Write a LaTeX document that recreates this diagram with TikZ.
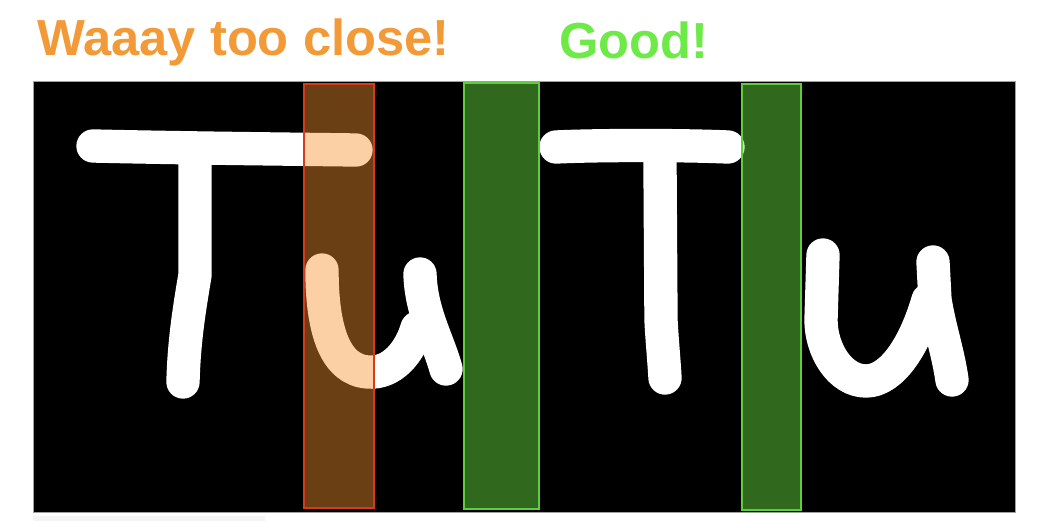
\documentclass[tikz,border=0pt]{standalone}
\usepackage{fontspec}
\setmainfont{Liberation Sans}

\tikzset{every picture/.style={line width=0.75pt}}
\tikzset{
  chalk/.style={draw=white, line width=25pt, line cap=round, line join=round},
  badband/.style={draw={rgb, 255:red, 216; green, 58; blue, 30 }, fill={rgb, 255:red, 249; green, 147; blue, 47 }, fill opacity=0.43, line width=0.9pt},
  goodband/.style={draw={rgb, 255:red, 96; green, 205; blue, 62 }, fill={rgb, 255:red, 108; green, 235; blue, 68 }, fill opacity=0.45, line width=0.9pt},
  caption/.style={inner sep=0pt, anchor=base west, font=\bfseries\fontsize{38}{40}\selectfont}
}

\begin{document}
\begin{tikzpicture}[x=0.75pt,y=0.75pt,yscale=-1,xscale=1]
\useasboundingbox (0,0) rectangle (1040,528);

%Titles
\node [caption, text={rgb, 255:red, 242; green, 154; blue, 56 }] (tooclose) at (37,56) {Waaay too close!};
\node [caption, text={rgb, 255:red, 110; green, 234; blue, 72 }] (good) at (559,59) {Good!};

%Shape: Rectangle (canvas)
\draw [color={rgb, 255:red, 160; green, 160; blue, 160 }, fill=black] (33,82) rectangle (1015,512);
%Shape: Rectangle (faint strip)
\fill [color={rgb, 255:red, 244; green, 244; blue, 244 }] (33,516) rectangle (265,521);

%Left T
\draw [chalk] (93,146) .. controls (180,148) and (280,149) .. (356,150);
\draw [chalk] (195,162) -- (195,275) .. controls (190,305) and (184,340) .. (183,382);
%Left u
\draw [chalk] (322,270) .. controls (322,330) and (335,370) .. (368,372) .. controls (392,374) and (410,352) .. (417,328);
\draw [chalk] (420,274) .. controls (421,312) and (438,340) .. (446,369);

%Right T
\draw [chalk] (556,147) .. controls (600,145) and (680,145) .. (728,147);
\draw [chalk] (660,163) -- (661,320) .. controls (662,340) and (664,360) .. (665,378);
%Right u
\draw [chalk] (823,255) -- (821,320) .. controls (821,350) and (840,381) .. (866,381) .. controls (892,381) and (915,345) .. (928,300);
\draw [chalk] (933,262) -- (935,300) .. controls (940,330) and (948,352) .. (952,380);

%Shape: Rectangle (gaps)
\draw [badband] (304,84) rectangle (374,508);
\draw [goodband] (464,83) rectangle (539,509);
\draw [goodband] (742,84) rectangle (801,510);

\end{tikzpicture}
\end{document}
